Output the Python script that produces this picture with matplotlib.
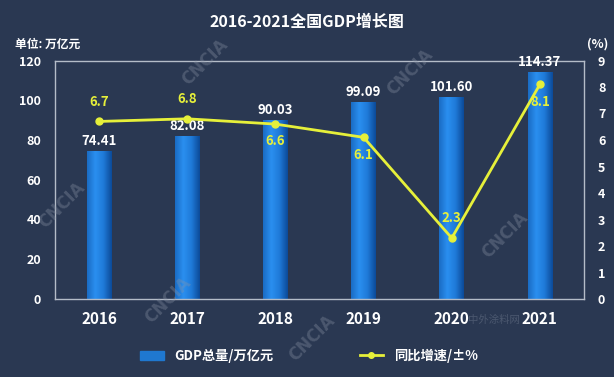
import numpy as np
import matplotlib.pyplot as plt
from matplotlib.colors import LinearSegmentedColormap
from matplotlib.patches import Rectangle
from matplotlib.lines import Line2D

plt.rcParams['font.family'] = ['Noto Sans CJK SC', 'DejaVu Sans']

years = ["2016", "2017", "2018", "2019", "2020", "2021"]
gdp = [74.41, 82.08, 90.03, 99.09, 101.60, 114.37]
growth = [6.7, 6.8, 6.6, 6.1, 2.3, 8.1]
growth_above = [True, True, False, False, True, False]

bg = "#2a3852"
yellow = "#e6f03a"
frame = "#b4bcc8"

fig = plt.figure(figsize=(6.14, 3.77), dpi=100, facecolor=bg)
ax = fig.add_axes([55 / 614, 1 - 299 / 377, 529 / 614, 238.5 / 377])
ax.set_facecolor(bg)

x = np.arange(len(years))
bars = ax.bar(x, gdp, width=0.28, color="#1f78d0", zorder=2)

# horizontal gradient inside each bar
grad_cmap = LinearSegmentedColormap.from_list(
    "bar", ["#1a6cc4", "#2a8ff0", "#1f7ad8", "#0c4a98"])
grad = np.linspace(0, 1, 64).reshape(1, -1)
for b in bars:
    x0, y0 = b.get_x(), b.get_y()
    im = ax.imshow(grad, cmap=grad_cmap, aspect="auto",
                   extent=(x0, x0 + b.get_width(), y0, y0 + b.get_height()),
                   zorder=2.5, interpolation="bicubic")
    im.set_clip_path(b)

ax.set_xlim(-0.5, len(years) - 0.5)
ax.set_ylim(0, 120)
ax.set_yticks(range(0, 121, 20))
ax.set_xticks(x)
ax.set_xticklabels(years)

for s in ax.spines.values():
    s.set_color(frame)
    s.set_linewidth(1.0)
ax.tick_params(axis="y", length=0, pad=10, labelcolor="white", labelsize=9)
ax.tick_params(axis="x", length=0, pad=9, labelcolor="white", labelsize=11)
for t in ax.get_yticklabels() + ax.get_xticklabels():
    t.set_fontweight("bold")

for xi, v in zip(x, gdp):
    ax.text(xi, v + 1.5, f"{v:.2f}", ha="center", va="bottom",
            color="white", fontsize=9.5, fontweight="bold", zorder=5)

ax2 = ax.twinx()
ax2.set_ylim(0, 9)
ax2.set_yticks(range(0, 10))
ax2.tick_params(axis="y", length=0, pad=10, labelcolor="white", labelsize=9)
for t in ax2.get_yticklabels():
    t.set_fontweight("bold")
for s in ax2.spines.values():
    s.set_visible(False)
ax2.plot(x, growth, color=yellow, lw=2, marker="o", ms=5, zorder=4)
for xi, v, up in zip(x, growth, growth_above):
    off = 0.75 if up else -0.65
    ax2.text(xi, v + off, f"{v}", ha="center", va="center",
             color=yellow, fontsize=9.5, fontweight="bold", zorder=5)

fig.text(0.5, 1 - 22 / 377, "2016-2021全国GDP增长图", ha="center", va="center",
         color="white", fontsize=11.5, fontweight="bold")
fig.text(15 / 614, 1 - 44 / 377, "单位: 万亿元", ha="left", va="center",
         color="white", fontsize=8.5, fontweight="bold")
fig.text(598 / 614, 1 - 44 / 377, "(%)", ha="center", va="center",
         color="white", fontsize=9, fontweight="bold")

# watermarks
for wx, wy in [(205, 62), (410, 72), (62, 205), (168, 300), (505, 235), (312, 338)]:
    fig.text(wx / 614, 1 - wy / 377, "CNCIA", rotation=45, ha="center",
             va="center", color="#8a94a6", alpha=0.35, fontsize=12,
             fontweight="bold", family="DejaVu Sans")
fig.text(494 / 614, 1 - 320 / 377, "中外涂料网", ha="center", va="center",
         color="#8a94a6", alpha=0.35, fontsize=7.5)

handles = [Rectangle((0, 0), 1, 1, color="#1f78d0"),
           Line2D([], [], color=yellow, lw=2, marker="o", ms=4)]
fig.legend(handles, ["GDP总量/万亿元", "同比增速/±%"], loc="center",
           bbox_to_anchor=(309 / 614, 1 - 356 / 377), ncol=2, frameon=False,
           labelcolor="white", prop={"size": 9.5, "weight": "bold"},
           handlelength=1.8, columnspacing=6.5)

fig.savefig("out.png", dpi=100, facecolor=bg)
